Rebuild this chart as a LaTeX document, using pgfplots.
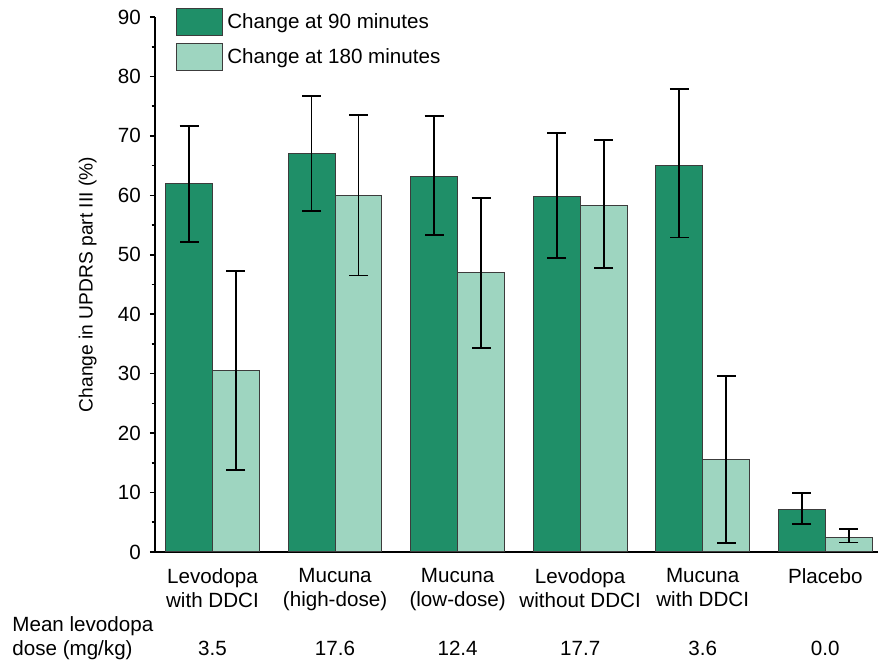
\documentclass[border=0pt]{standalone}
\usepackage{pgfplots}
\usepackage{pgfplotstable}
\pgfplotsset{compat=1.18}
\usepackage{fontspec}
\setmainfont{Liberation Sans}

\definecolor{darkgr}{RGB}{31,143,104}
\definecolor{lightgr}{RGB}{158,213,192}
\definecolor{edgegr}{RGB}{60,60,60}

% x, value, error plus, error minus
\pgfplotstableread{
x y ep em
0 62.0 9.7 9.8
1 67.0 9.7 9.6
2 63.1 10.2 9.8
3 59.8 10.7 10.3
4 65.1 12.8 12.2
5 7.2 2.7 2.5
}\ninety

\pgfplotstableread{
x y ep em
0 30.5 16.8 16.7
1 60.0 13.5 13.5
2 47.0 12.6 12.7
3 58.3 11.0 10.5
4 15.5 14.1 14.0
5 2.5 1.4 0.9
}\oneeighty

\begin{document}
\begin{tikzpicture}[font=\fontsize{10.3}{12}\selectfont]
  \path[use as bounding box] (0,0) rectangle (440pt,331pt);

  \begin{axis}[
    at={(77.5pt,55pt)}, anchor=south west,
    scale only axis,
    width=361.5pt, height=267.5pt,
    clip=false,
    ybar, bar width=0.383,
    xmin=-0.469, xmax=5.43,
    ymin=0, ymax=90,
    axis x line=bottom, axis y line=left,
    axis line style={-, line width=0.9pt},
    xtick={0,...,5},
    xticklabels={Levodopa\\with DDCI, Mucuna\\(high-dose), Mucuna\\(low-dose),
                 Levodopa\\without DDCI, Mucuna\\with DDCI, Placebo},
    xtick style={draw=none},
    xticklabel style={align=center, font=\fontsize{10.3}{12}\selectfont, yshift=-2pt},
    ytick={0,10,...,90},
    minor y tick num=1,
    tick align=outside,
    major tick length=2.6pt, minor tick length=1.7pt,
    ytick style={line width=0.8pt, black},
    yticklabel style={font=\fontsize{10.3}{12}\selectfont, xshift=-1pt},
    /pgf/number format/assume math mode=true,
    ylabel={Change in UPDRS part III (\%)},
    ylabel style={at={(axis description cs:-0.093,0.5)}, anchor=center,
                  font=\fontsize{9.6}{12}\selectfont},
    legend style={draw=none, fill=none, at={(axis description cs:0.029,1.017)},
                  anchor=north west, inner sep=0pt, row sep=3.5pt,
                  font=\fontsize{10.3}{12}\selectfont},
    legend cell align=left,
  ]
    \addplot[fill=darkgr, draw=edgegr, line width=0.5pt, bar shift=-0.1915,
      legend image code/.code={\draw[fill=darkgr, draw=edgegr, line width=0.5pt] (0pt,-6.75pt) rectangle (23pt,6.75pt);},
      error bars/.cd, y dir=both, y explicit,
      error bar style={line width=0.9pt, black},
      error mark options={rotate=90, mark size=4.75pt, line width=0.9pt, black}]
      table[x=x, y=y, y error plus=ep, y error minus=em] {\ninety};
    \addlegendentry{Change at 90 minutes}

    \addplot[fill=lightgr, draw=edgegr, line width=0.5pt, bar shift=0.1915,
      legend image code/.code={\draw[fill=lightgr, draw=edgegr, line width=0.5pt] (0pt,-6.75pt) rectangle (23pt,6.75pt);},
      error bars/.cd, y dir=both, y explicit,
      error bar style={line width=0.9pt, black},
      error mark options={rotate=90, mark size=4.75pt, line width=0.9pt, black}]
      table[x=x, y=y, y error plus=ep, y error minus=em] {\oneeighty};
    \addlegendentry{Change at 180 minutes}

    \node[anchor=base, yshift=-52pt] at (axis cs:0,0) {3.5};
    \node[anchor=base, yshift=-52pt] at (axis cs:1,0) {17.6};
    \node[anchor=base, yshift=-52pt] at (axis cs:2,0) {12.4};
    \node[anchor=base, yshift=-52pt] at (axis cs:3,0) {17.7};
    \node[anchor=base, yshift=-52pt] at (axis cs:4,0) {3.6};
    \node[anchor=base, yshift=-52pt] at (axis cs:5,0) {0.0};
  \end{axis}

  \node[anchor=base west, inner sep=0pt] at (6pt,15pt) {Mean levodopa};
  \node[anchor=base west, inner sep=0pt] at (6pt,3pt) {dose (mg/kg)};
\end{tikzpicture}
\end{document}
